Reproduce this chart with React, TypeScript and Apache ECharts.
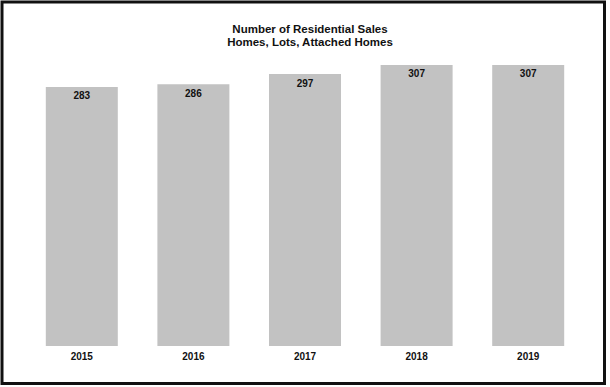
import React, { useEffect, useRef } from "react";
import * as echarts from "echarts";

const years = ["2015", "2016", "2017", "2018", "2019"];
const sales = [283, 286, 297, 307, 307];
const titleLines = ["Number of Residential Sales", "Homes, Lots, Attached Homes"];

export default function App() {
  const ref = useRef<HTMLDivElement>(null);
  useEffect(() => {
    if (!ref.current) return;
    const chart = echarts.init(ref.current, null, { renderer: "svg" });
    const font = "'Liberation Sans', Arial, Helvetica, sans-serif";
    chart.setOption({
      animation: false,
      backgroundColor: "#ffffff",
      textStyle: { fontFamily: font },
      title: {
        text: titleLines.join("\n"),
        left: 305,
        top: 18,
        textAlign: "center",
        textStyle: {
          fontFamily: font,
          fontSize: 11.5,
          fontWeight: "bold",
          color: "#111",
          lineHeight: 12.5,
        },
      },
      grid: { left: 26, right: 26, top: 53, bottom: 41, containLabel: false },
      xAxis: {
        type: "category",
        data: years,
        axisLine: { show: false },
        axisTick: { show: false },
        axisLabel: {
          margin: 5,
          fontFamily: font,
          fontSize: 10,
          fontWeight: "bold",
          color: "#111",
        },
      },
      yAxis: {
        type: "value",
        min: 0,
        max: 320,
        show: false,
        splitLine: { show: false },
      },
      series: [
        {
          type: "bar",
          data: sales,
          barWidth: 72,
          itemStyle: { color: "#c2c2c2" },
          label: {
            show: true,
            position: "insideTop",
            distance: 4,
            fontFamily: font,
            fontSize: 10,
            fontWeight: "bold",
            color: "#111",
          },
        },
      ],
      graphic: [
        {
          type: "rect",
          shape: { x: 2, y: 2, width: 602.5, height: 381.5 },
          style: { fill: "none", stroke: "#111", lineWidth: 3 },
          silent: true,
        },
      ],
    });
    return () => chart.dispose();
  }, []);
  return (
    <div
      ref={ref}
      style={{ position: "absolute", left: 0, top: 0, width: 610, height: 387 }}
    />
  );
}
